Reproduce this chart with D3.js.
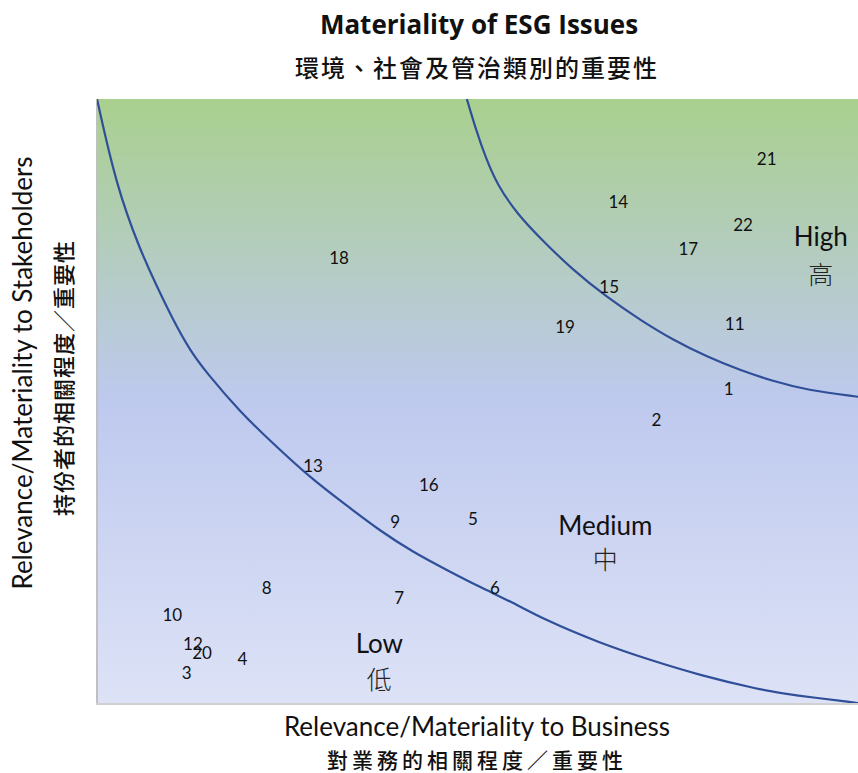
<!DOCTYPE html>
<html><head><meta charset="utf-8">
<script src="https://cdn.jsdelivr.net/npm/d3@7"></script>
<style>
html,body{margin:0;padding:0;background:#fff;}
svg{display:block;}
</style></head>
<body>
<script>
// ---- data ----
const issueIds = ["1","2","3","4","5","6","7","8","9","10","11","12","13","14","15","16","17","18","19","20","21","22"];
const businessScore = [8.30,7.35,1.18,1.91,4.94,5.23,3.97,2.23,3.92,0.99,8.38,1.26,2.84,6.85,6.73,4.36,7.77,3.18,6.15,1.38,8.80,8.49];
const stakeholderScore = [5.20,4.69,0.51,0.73,3.06,1.92,1.74,1.92,3.01,1.46,6.29,0.99,3.94,8.31,6.89,3.61,7.53,7.38,6.24,0.83,9.01,7.93];

const lowBoundaryX = [0,0.25,0.565,0.79,1.00,1.22,1.445,1.88,2.31,2.80,3.29,3.72,4.15,4.60,5.03,5.47,5.86,6.61,7.27,7.92,8.71,9.15,10];
const lowBoundaryY = [10,8.58,7.50,6.89,6.34,5.84,5.46,4.82,4.30,3.73,3.26,2.85,2.50,2.20,1.92,1.66,1.39,0.99,0.71,0.46,0.22,0.13,0];
const highBoundaryX = [4.86,4.98,5.11,5.26,5.52,5.82,6.25,6.70,7.14,7.57,8.02,8.45,8.88,9.33,10];
const highBoundaryY = [10,9.49,9.02,8.58,8.10,7.70,7.17,6.72,6.34,6.01,5.73,5.51,5.33,5.18,5.07];

const regionNames = ["High","Medium","Low"];
const regionNamesZh = ["高","中","低"];
const regionX = [9.51,6.68,3.71];
const regionY = [7.73,2.95,0.99];
const regionZhY = [7.12,2.40,0.41];

const titleEn = "Materiality of ESG Issues";
const titleZh = "環境、社會及管治類別的重要性";
const xTitleEn = "Relevance/Materiality to Business";
const xTitleZh = "對業務的相關程度／重要性";
const yTitleEn = "Relevance/Materiality to Stakeholders";
const yTitleZh = "持份者的相關程度／重要性";

// ---- chart ----
const W = 858, H = 773;
const L = 97, R = 858, T = 99, B = 703;
const svg = d3.select("body").append("svg").attr("width", W).attr("height", H);
const x = d3.scaleLinear().domain([0,10]).range([L,R]);
const y = d3.scaleLinear().domain([0,10]).range([B,T]);

const defs = svg.append("defs");
const grad = defs.append("linearGradient").attr("id","bg").attr("x1",0).attr("y1",0).attr("x2",0).attr("y2",1);
grad.append("stop").attr("offset","0%").attr("stop-color","#a9d08e");
grad.append("stop").attr("offset","50%").attr("stop-color","#bec9ee");
grad.append("stop").attr("offset","100%").attr("stop-color","#dde2f6");
const clip = defs.append("clipPath").attr("id","plotclip");
clip.append("rect").attr("x",L).attr("y",T).attr("width",R-L).attr("height",B-T);

svg.append("rect").attr("x",L).attr("y",T).attr("width",R-L).attr("height",B-T).attr("fill","url(#bg)");

// borders (left and bottom)
svg.append("line").attr("x1",L).attr("x2",L).attr("y1",T).attr("y2",B+1).attr("stroke","#c0c0c0").attr("stroke-width",2);
svg.append("line").attr("x1",L-1).attr("x2",R).attr("y1",B+1).attr("y2",B+1).attr("stroke","#d0d0d0").attr("stroke-width",2);

const line = d3.line().x(d=>x(d[0])).y(d=>y(d[1])).curve(d3.curveBasis);
const g = svg.append("g").attr("clip-path","url(#plotclip)");
[[lowBoundaryX,lowBoundaryY],[highBoundaryX,highBoundaryY]].forEach(([xs,ys])=>{
  g.append("path").datum(xs.map((v,i)=>[v,ys[i]]))
    .attr("d",line).attr("fill","none").attr("stroke","#2f4f98").attr("stroke-width",2.2);
});

// issue labels
svg.append("g").selectAll("text").data(issueIds).join("text")
  .attr("x",(d,i)=>x(businessScore[i]))
  .attr("y",(d,i)=>y(stakeholderScore[i]))
  .attr("text-anchor","middle").attr("dominant-baseline","central")
  .attr("font-family","Lato, 'Open Sans', sans-serif").attr("font-size",17)
  .attr("fill","#111").text(d=>d);

// region labels
svg.append("g").selectAll("text").data(regionNames).join("text")
  .attr("x",(d,i)=>x(regionX[i])).attr("y",(d,i)=>y(regionY[i]))
  .attr("text-anchor","middle").attr("dominant-baseline","central")
  .attr("font-family","Lato, sans-serif").attr("font-size",26).attr("fill","#111").text(d=>d);
svg.append("g").selectAll("text").data(regionNamesZh).join("text")
  .attr("x",(d,i)=>x(regionX[i])).attr("y",(d,i)=>y(regionZhY[i]))
  .attr("text-anchor","middle").attr("dominant-baseline","central")
  .attr("font-family","'Noto Sans CJK TC', sans-serif").attr("font-weight",300).attr("font-size",25).attr("fill","#222").text(d=>d);

// titles
svg.append("text").attr("x",479).attr("y",24).attr("text-anchor","middle").attr("dominant-baseline","central")
  .attr("font-family","'Open Sans', sans-serif").attr("font-weight",700).attr("font-size",26).attr("fill","#111").text(titleEn);
svg.append("text").attr("x",477).attr("y",66).attr("text-anchor","middle").attr("dominant-baseline","central")
  .attr("font-family","'Noto Sans CJK TC', sans-serif").attr("font-weight",500).attr("font-size",24).attr("letter-spacing",2).attr("fill","#111").text(titleZh);

svg.append("text").attr("x",477).attr("y",726).attr("text-anchor","middle").attr("dominant-baseline","central")
  .attr("font-family","Lato, sans-serif").attr("font-size",26).attr("fill","#111").text(xTitleEn);
svg.append("text").attr("x",477).attr("y",759).attr("text-anchor","middle").attr("dominant-baseline","central")
  .attr("font-family","'Noto Sans CJK TC', sans-serif").attr("font-weight",500).attr("font-size",21).attr("letter-spacing",4).attr("fill","#111").text(xTitleZh);

svg.append("text").attr("transform","translate(22,373) rotate(-90)").attr("text-anchor","middle").attr("dominant-baseline","central")
  .attr("font-family","Lato, sans-serif").attr("font-size",26).attr("fill","#111").text(yTitleEn);
svg.append("text").attr("transform","translate(62,378) rotate(-90)").attr("text-anchor","middle").attr("dominant-baseline","central")
  .attr("font-family","'Noto Sans CJK TC', sans-serif").attr("font-weight",500).attr("font-size",22).attr("letter-spacing",1).attr("fill","#111").text(yTitleZh);
</script>
</body></html>
